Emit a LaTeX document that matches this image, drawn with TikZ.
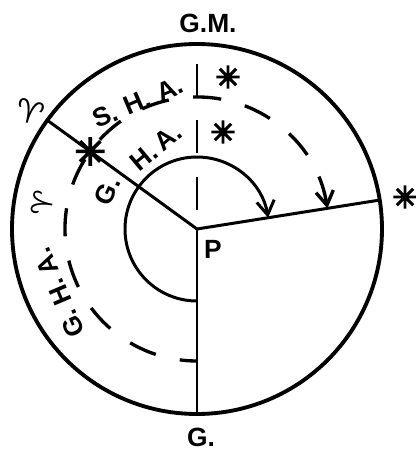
\documentclass[tikz,border=0pt]{standalone}
\usepackage{fontspec}
\setmainfont{Liberation Sans}
\newfontfamily\symfont{DejaVu Sans}
\newfontfamily\starfont[FakeBold=5]{DejaVu Sans}
\usetikzlibrary{arrows.meta}

\begin{document}
\begin{tikzpicture}[
    x=0.02cm, y=0.02cm,
    >={Straight Barb[length=8pt,width=10pt]},
    circ/.style={line width=2.2pt},
    ray/.style={line width=1.7pt},
    meridian/.style={ray, dash pattern=on 18.7pt off 13.6pt, dash phase=21.5pt},
    hourarc/.style={ray, line width=1.9pt, dash pattern=on 16pt off 14pt},
    lbl/.style={font=\fontsize{15}{18}\selectfont\bfseries, inner sep=0pt},
    starsym/.style={font=\starfont\fontsize{17}{18}\selectfont, inner sep=0pt}
]
\useasboundingbox (-197,-221) rectangle (219,229);

\coordinate (P) at (0,0);
\coordinate (GM) at (90:185);
\coordinate (G) at (270:185);
\coordinate (Ar) at (144:185);
\coordinate (St) at (9:185);

% celestial equator and hour circles
\draw[circ] (P) circle[radius=185];
\draw[ray] (P) -- (Ar);
\draw[ray] (P) -- (St);
\draw[ray] (P) -- (G);
\draw[meridian] (P) -- (GM);

% hour angles
\draw[ray, ->] (270:72) arc[start angle=270, end angle=9, radius=72];
\draw[hourarc, <-] (9:132) arc[start angle=9, end angle=270, radius=132];

% labels
\node[lbl] (gmlabel) at (11,206) {G.M.};
\node[lbl] (glabel) at (4,-208) {G.};
\node[lbl] (plabel) at (16,-20) {P};
\node[starsym] (star) at (208,32) {✳};
\node[font=\symfont\fontsize{18}{20}\selectfont, inner sep=0pt, rotate=-15] (aries) at (-167,117) {♈};
\node[lbl, rotate=23] (sha) at (-59,127) {S.\kern5pt H.\kern5pt A.};
\node[starsym] (shastar) at (31,152) {✳};
\node[lbl, rotate=40] (ha) at (-41,82) {H.\kern3pt A.};
\node[starsym] (hastar) at (26,97) {✳};
\node[lbl, rotate=65] (gin) at (-90,38) {G.};
\node[starsym, font=\starfont\fontsize{21}{22}\selectfont] (ariesstar) at (144:132) {✳};
\node[lbl, rotate=113] (gha) at (-138,-64) {G.\kern4pt H.\kern4pt A.};
\node[font=\symfont\fontsize{16}{18}\selectfont, inner sep=0pt, rotate=80] (ghaaries) at (-154,26) {♈};
\end{tikzpicture}
\end{document}
